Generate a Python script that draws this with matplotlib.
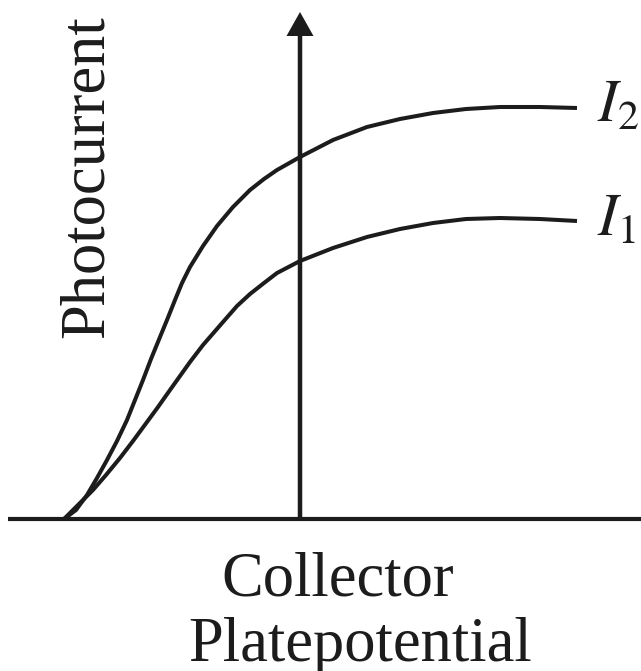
'''Photocurrent vs collector plate potential for two intensities.'''

import matplotlib
matplotlib.use('Agg')
import matplotlib.pyplot as plt

# curve readings (potential, photocurrent), axis crossing at (0, 0)
v_i2 = [-2.36, -2.24, -2.13, -2.03, -1.93, -1.83, -1.73, -1.65, -1.57, -1.49, -1.40, -1.33,
        -1.25, -1.18, -1.10, -0.97, -0.83, -0.67, -0.50, -0.36, -0.23, 0.00, 0.33, 0.67,
        1.00, 1.33, 1.66, 2.00, 2.40, 2.77]
cur_i2 = [0.00, 0.09, 0.24, 0.41, 0.59, 0.78, 0.99, 1.19, 1.39, 1.60, 1.82, 1.99,
          2.19, 2.36, 2.52, 2.73, 2.93, 3.12, 3.29, 3.40, 3.49, 3.62, 3.79, 3.92,
          4.00, 4.06, 4.10, 4.12, 4.12, 4.11]

v_i1 = [-2.36, -2.22, -2.07, -1.94, -1.80, -1.67, -1.53, -1.42, -1.30, -1.20, -1.10, -0.97,
        -0.77, -0.63, -0.50, -0.36, -0.23, 0.00, 0.33, 0.67, 1.00, 1.33, 1.66, 2.00,
        2.40, 2.77]
cur_i1 = [0.00, 0.14, 0.29, 0.44, 0.61, 0.78, 0.97, 1.12, 1.29, 1.43, 1.57, 1.74,
          1.97, 2.13, 2.25, 2.36, 2.46, 2.58, 2.71, 2.82, 2.90, 2.96, 3.00, 3.01,
          3.00, 2.98]

labels = ['$I_2$', '$I_1$']

plt.rcParams['font.family'] = 'Liberation Serif'
plt.rcParams['mathtext.fontset'] = 'stix'

ink = '#1c1c1c'

fig = plt.figure(figsize=(6.41, 6.71), dpi=100)
ax = fig.add_axes([0, 0, 1, 1])
ax.set_xlim(-3.0, 3.41)
ax.set_ylim(-1.52, 5.19)
ax.axis('off')

# axes
ax.plot([-2.92, 3.41], [0, 0], color=ink, lw=3.0, solid_capstyle='butt')
ax.arrow(0, 0, 0, 5.07, width=0.045, head_width=0.27, head_length=0.24,
         length_includes_head=True, color=ink, lw=0)

# curves
for v, c in [(v_i2, cur_i2), (v_i1, cur_i1)]:
    ax.plot(v, c, color=ink, lw=2.9, solid_capstyle='butt', solid_joinstyle='round')

# curve labels
ax.text(2.97, 3.97, labels[0], fontsize=43, color=ink, ha='left', va='baseline')
ax.text(2.97, 2.83, labels[1], fontsize=43, color=ink, ha='left', va='baseline')

ax.text(-2.12, 3.42, 'Photocurrent', rotation=90, fontsize=45, color=ink,
        ha='center', va='center')
ax.text(0.38, -0.76, 'Collector', fontsize=45, color=ink, ha='center', va='baseline')
ax.text(-1.12, -1.42, 'Platepotential', fontsize=45, color=ink, ha='left', va='baseline')

fig.savefig('out.png', dpi=100)
